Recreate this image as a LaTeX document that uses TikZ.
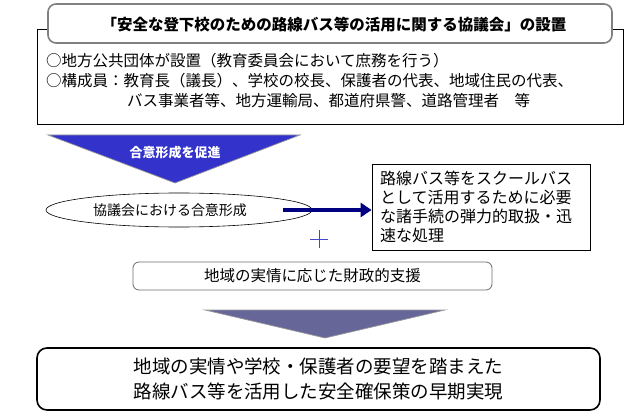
\documentclass[tikz,border=0pt]{standalone}
\usepackage{fontspec}
\setmainfont{Noto Sans CJK JP}
\usetikzlibrary{shapes.geometric,arrows.meta}
\definecolor{triblue}{RGB}{51,51,204}
\definecolor{slateblue}{RGB}{102,102,153}
\definecolor{navyarrow}{RGB}{0,0,128}
\definecolor{plusblue}{RGB}{70,70,200}
\begin{document}
\begin{tikzpicture}[x=1pt,y=-1pt,
  boxline/.style={draw=black,line width=0.8pt},
  txt/.style={inner sep=0pt,anchor=west,font=\fontsize{15.5}{18}\selectfont},
  tri/.style={draw=gray!80,line width=0.7pt},
  softbox/.style={draw=gray!85!black,line width=0.8pt,fill=white}]
\useasboundingbox (0,0) rectangle (641,420);
% outer box
\node[boxline,minimum width=586pt,minimum height=95pt,inner sep=0pt] (outer) at (330,76.5) {};
% title box
\node[softbox,draw=gray,line width=1.6pt,rounded corners=8pt,minimum width=564pt,minimum height=39pt,inner sep=0pt] (title) at (330,23.5) {};
\node[inner sep=0pt,font=\fontsize{15.5}{18}\selectfont\bfseries] (titletext) at (334,25) {「安全な登下校のための路線バス等の活用に関する協議会」の設置};
\node[txt] (l1) at (46,61) {○地方公共団体が設置（教育委員会において庶務を行う）};
\node[txt] (l2) at (46,81) {○構成員：教育長（議長）、学校の校長、保護者の代表、地域住民の代表、};
\node[txt] (l3) at (127,101) {バス事業者等、地方運輸局、都道府県警、道路管理者　等};
% blue triangle
\path[tri,fill=triblue] (48,135) -- (300,135) -- (175,183) -- cycle;
\node[inner sep=0pt,text=white,font=\fontsize{13}{15}\selectfont\bfseries] (promote) at (175,153) {合意形成を促進};
% ellipse
\node[ellipse,draw=black,line width=0.6pt,minimum width=266pt,minimum height=34pt,inner sep=0pt] (ell) at (179,210) {};
\node[inner sep=0pt,font=\fontsize{14}{16}\selectfont] (elltext) at (170,210) {協議会における合意形成};
% right box
\node[boxline,text width=202pt,inner xsep=8pt,inner ysep=3pt,minimum height=86pt,align=left,font=\fontsize{16}{19}\selectfont] (rbox) at (481,207) {路線バス等をスクールバス\\として活用するために必要\\な諸手続の弾力的取扱・迅\\速な処理};
% arrow
\coordinate (arrstart) at (283,210);
\draw[navyarrow,line width=4.5pt,-{Triangle[length=11pt,width=14pt]}] (arrstart) -- (arrstart -| rbox.west);
% plus
\coordinate (plusc) at (319,239);
\draw[plusblue,line width=0.9pt] ([xshift=-9pt]plusc) -- ([xshift=9pt]plusc);
\draw[plusblue,line width=0.9pt] ([yshift=-9pt]plusc) -- ([yshift=9pt]plusc);
% financial support box
\node[softbox,rounded corners=6pt,minimum width=359pt,minimum height=28pt,inner sep=0pt,font=\fontsize{15.5}{18}\selectfont] (fin) at (312.5,276) {地域の実情に応じた財政的支援};
% second triangle
\path[tri,fill=slateblue] (205,310) -- (445,310) -- (325,338) -- cycle;
% final box
\node[draw=black,line width=1.6pt,rounded corners=10pt,minimum width=563pt,minimum height=62pt,inner sep=0pt,align=center,font=\fontsize{18.5}{25}\selectfont] (final) at (318.5,379) {地域の実情や学校・保護者の要望を踏まえた\\路線バス等を活用した安全確保策の早期実現};
\end{tikzpicture}
\end{document}
